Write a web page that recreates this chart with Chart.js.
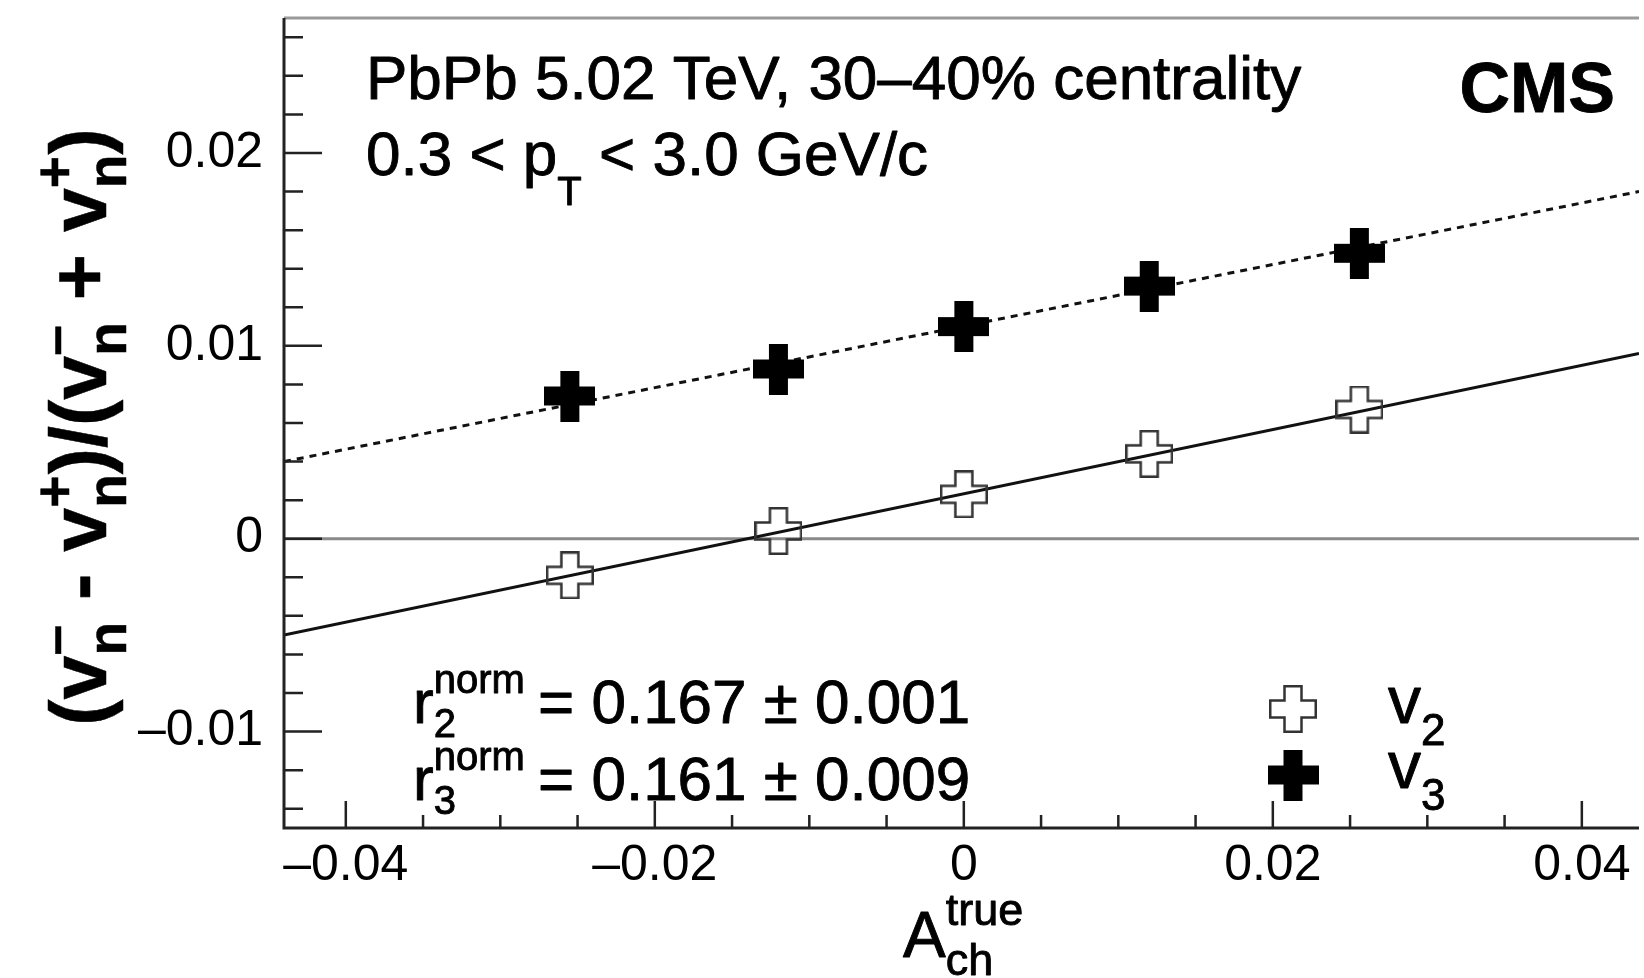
<!DOCTYPE html>
<html>
<head>
<meta charset="utf-8">
<script src="https://cdn.jsdelivr.net/npm/chart.js@4.4.0/dist/chart.umd.min.js"></script>
<style>
  html, body { margin: 0; padding: 0; background: #fff; }
</style>
</head>
<body>
<canvas id="chart" width="1644" height="978"></canvas>
<script>
// bin centres in A_ch^true and the measured asymmetries
const aTrue = [-0.0255, -0.012, 0.0, 0.012, 0.0256]
const v2Vals = [-0.0019, 0.0004, 0.0023, 0.0044, 0.0067]
const v3Vals = [0.0074, 0.0088, 0.0110, 0.0131, 0.0148]

const fitX = [-0.044, 0.0437]
const v2Fit = [-0.0050, 0.0096]
const v3Fit = [0.0040, 0.0180]

const xMajor = [-0.04, -0.02, 0, 0.02, 0.04]
const xMinor = [-0.035, -0.03, -0.025, -0.015, -0.01, -0.005, 0.005, 0.01, 0.015, 0.025, 0.03, 0.035]
const yMajor = [-0.01, 0, 0.01, 0.02]
const yMinor = [-0.014, -0.012, -0.008, -0.006, -0.004, -0.002, 0.002, 0.004, 0.006, 0.008,
                0.012, 0.014, 0.016, 0.018, 0.022, 0.024, 0.026]

const FONT = '"Liberation Sans", Arial, Helvetica, sans-serif'

// ROOT style crosses (open = 28, full = 34)
function makeCross(size, arm, filled) {
  const c = document.createElement('canvas')
  c.width = size
  c.height = size
  const g = c.getContext('2d')
  const lw = filled ? 0 : 2.5
  const o = lw / 2, s = size - lw / 2
  const a = (size - arm) / 2, b = (size + arm) / 2
  g.beginPath()
  g.moveTo(a, o); g.lineTo(b, o); g.lineTo(b, a); g.lineTo(s, a); g.lineTo(s, b); g.lineTo(b, b)
  g.lineTo(b, s); g.lineTo(a, s); g.lineTo(a, b); g.lineTo(o, b); g.lineTo(o, a); g.lineTo(a, a)
  g.closePath()
  if (filled) {
    g.fillStyle = '#000'
    g.fill()
  } else {
    g.strokeStyle = '#333'
    g.lineWidth = lw
    g.stroke()
  }
  return c
}
const openCross = makeCross(48, 17, false)
const fullCross = makeCross(51, 19, true)

function fmt(v) {
  if (v === 0) return '0'
  return (v < 0 ? '\u2013' : '') + Math.abs(v).toFixed(2)
}

// fill plus a thin stroke, the original text is a bit heavier than Liberation Sans
function put(g, s, x, y) {
  g.fillText(s, x, y)
  g.strokeText(s, x, y)
}

// text with sub/superscripts, segments are {t} or {sub, sup}
function rich(g, x, y, segs, o) {
  const face = sz => (o.bold ? 'bold ' : '') + sz + 'px ' + FONT
  let cx = x
  for (const s of segs) {
    if (s.t !== undefined) {
      g.font = face(o.size)
      if (!o.dry) put(g, s.t, cx, y)
      cx += g.measureText(s.t).width
    } else {
      g.font = face(o.small)
      let w = 0
      if (s.sup) {
        if (!o.dry) put(g, s.sup, cx, y - o.rise)
        w = Math.max(w, g.measureText(s.sup).width)
      }
      if (s.sub) {
        if (!o.dry) put(g, s.sub, cx, y + o.drop)
        w = Math.max(w, g.measureText(s.sub).width)
      }
      cx += w + (o.gap || 0)
    }
  }
  return cx - x
}

const decor = {
  id: 'decor',
  afterDraw(chart) {
    const g = chart.ctx
    const xs = chart.scales.x, ys = chart.scales.y
    const { left, right, top, bottom } = chart.chartArea
    g.save()

    // frame
    g.strokeStyle = '#9a9a9a'
    g.lineWidth = 3
    g.beginPath(); g.moveTo(left, top); g.lineTo(right, top); g.stroke()
    g.strokeStyle = '#222'
    g.beginPath(); g.moveTo(left, top); g.lineTo(left, bottom); g.lineTo(right, bottom); g.stroke()

    // inward ticks
    g.lineWidth = 2.5
    g.beginPath()
    yMajor.forEach(v => { const p = ys.getPixelForValue(v); g.moveTo(left, p); g.lineTo(left + 38, p) })
    yMinor.forEach(v => { const p = ys.getPixelForValue(v); g.moveTo(left, p); g.lineTo(left + 19, p) })
    xMajor.forEach(v => { const p = xs.getPixelForValue(v); g.moveTo(p, bottom); g.lineTo(p, bottom - 27) })
    xMinor.forEach(v => { const p = xs.getPixelForValue(v); g.moveTo(p, bottom); g.lineTo(p, bottom - 13) })
    g.stroke()

    g.fillStyle = '#000'
    g.strokeStyle = '#000'
    g.lineWidth = 0.9
    g.lineJoin = 'round'
    g.textBaseline = 'alphabetic'
    g.textAlign = 'left'

    // header
    g.font = '62px ' + FONT
    put(g, 'PbPb 5.02 TeV, 30\u201340% centrality', 366, 99)
    rich(g, 366, 175, [{ t: '0.3 < p' }, { sub: 'T' }, { t: ' < 3.0 GeV/c' }],
      { size: 62, small: 40, drop: 30, rise: 0 })
    g.font = 'bold 70px ' + FONT
    g.textAlign = 'right'
    put(g, 'CMS', 1615, 112)
    g.textAlign = 'left'

    // fit results
    const ro = { size: 62, small: 40, rise: 30, drop: 14 }
    rich(g, 413, 723, [{ t: 'r' }, { sub: '2', sup: 'norm' }], ro)
    g.font = '62px ' + FONT
    put(g, '= 0.167 \u00b1 0.001', 538, 723)
    rich(g, 413, 800, [{ t: 'r' }, { sub: '3', sup: 'norm' }], ro)
    g.font = '62px ' + FONT
    put(g, '= 0.161 \u00b1 0.009', 538, 800)

    // legend
    g.drawImage(openCross, 1293 - 24, 709 - 24)
    g.drawImage(fullCross, 1293 - 25.5, 775 - 25.5)
    const lo = { size: 66, small: 44, rise: 0, drop: 22 }
    rich(g, 1388, 723, [{ t: 'v' }, { sub: '2' }], lo)
    rich(g, 1388, 788, [{ t: 'v' }, { sub: '3' }], lo)

    // x title
    rich(g, 903, 957, [{ t: 'A' }, { sub: 'ch', sup: 'true' }],
      { size: 64, small: 45, rise: 32, drop: 18 })

    // y title, rotated
    const yseg = [{ t: '(v' }, { sub: 'n', sup: '\u2013' }, { t: ' - v' }, { sub: 'n', sup: '+' },
                  { t: ')/(v' }, { sub: 'n', sup: '\u2013' }, { t: ' + v' }, { sub: 'n', sup: '+' }, { t: ')' }]
    const yo = { size: 79, small: 55, rise: 33, drop: 20, bold: true }
    g.lineWidth = 0.5
    const w = rich(g, 0, 0, yseg, Object.assign({ dry: true }, yo))
    g.translate(106, 427)
    g.rotate(-Math.PI / 2)
    rich(g, -w / 2, 0, yseg, yo)

    g.restore()
  }
}

const ctx = document.getElementById('chart').getContext('2d')
const chart = new Chart(ctx, {
  type: 'scatter',
  data: {
    datasets: [
      {
        label: 'v3',
        data: aTrue.map((x, i) => ({ x: x, y: v3Vals[i] })),
        pointStyle: fullCross,
        showLine: false
      },
      {
        label: 'v2',
        data: aTrue.map((x, i) => ({ x: x, y: v2Vals[i] })),
        pointStyle: openCross,
        showLine: false
      },
      {
        label: 'v3 fit',
        data: fitX.map((x, i) => ({ x: x, y: v3Fit[i] })),
        showLine: true,
        borderColor: '#111',
        borderWidth: 3,
        borderDash: [7, 6],
        pointRadius: 0
      },
      {
        label: 'v2 fit',
        data: fitX.map((x, i) => ({ x: x, y: v2Fit[i] })),
        showLine: true,
        borderColor: '#111',
        borderWidth: 3,
        pointRadius: 0
      },
      {
        label: 'zero',
        data: fitX.map(x => ({ x: x, y: 0 })),
        showLine: true,
        borderColor: '#8a8a8a',
        borderWidth: 3,
        pointRadius: 0
      }
    ]
  },
  options: {
    responsive: false,
    animation: false,
    devicePixelRatio: 1,
    layout: { padding: { top: 18, right: 0, bottom: 0, left: 0 } },
    plugins: {
      legend: { display: false },
      tooltip: { enabled: false }
    },
    scales: {
      x: {
        type: 'linear',
        min: -0.044,
        max: 0.0437,
        grid: { display: false, drawTicks: false },
        border: { display: false },
        afterBuildTicks: s => { s.ticks = xMajor.map(v => ({ value: v })) },
        afterFit: s => { s.height = 150; s.paddingLeft = 0; s.paddingRight = 0 },
        ticks: {
          font: { family: FONT, size: 50 },
          color: '#000',
          padding: 8,
          maxRotation: 0,
          autoSkip: false,
          callback: fmt
        }
      },
      y: {
        type: 'linear',
        min: -0.015,
        max: 0.027,
        grid: { display: false, drawTicks: false },
        border: { display: false },
        afterBuildTicks: s => { s.ticks = yMajor.map(v => ({ value: v })) },
        afterFit: s => { s.width = 284; s.paddingTop = 0; s.paddingBottom = 0 },
        ticks: {
          font: { family: FONT, size: 50 },
          color: '#000',
          padding: 21,
          autoSkip: false,
          callback: fmt
        }
      }
    }
  },
  plugins: [decor]
})
</script>
</body>
</html>
